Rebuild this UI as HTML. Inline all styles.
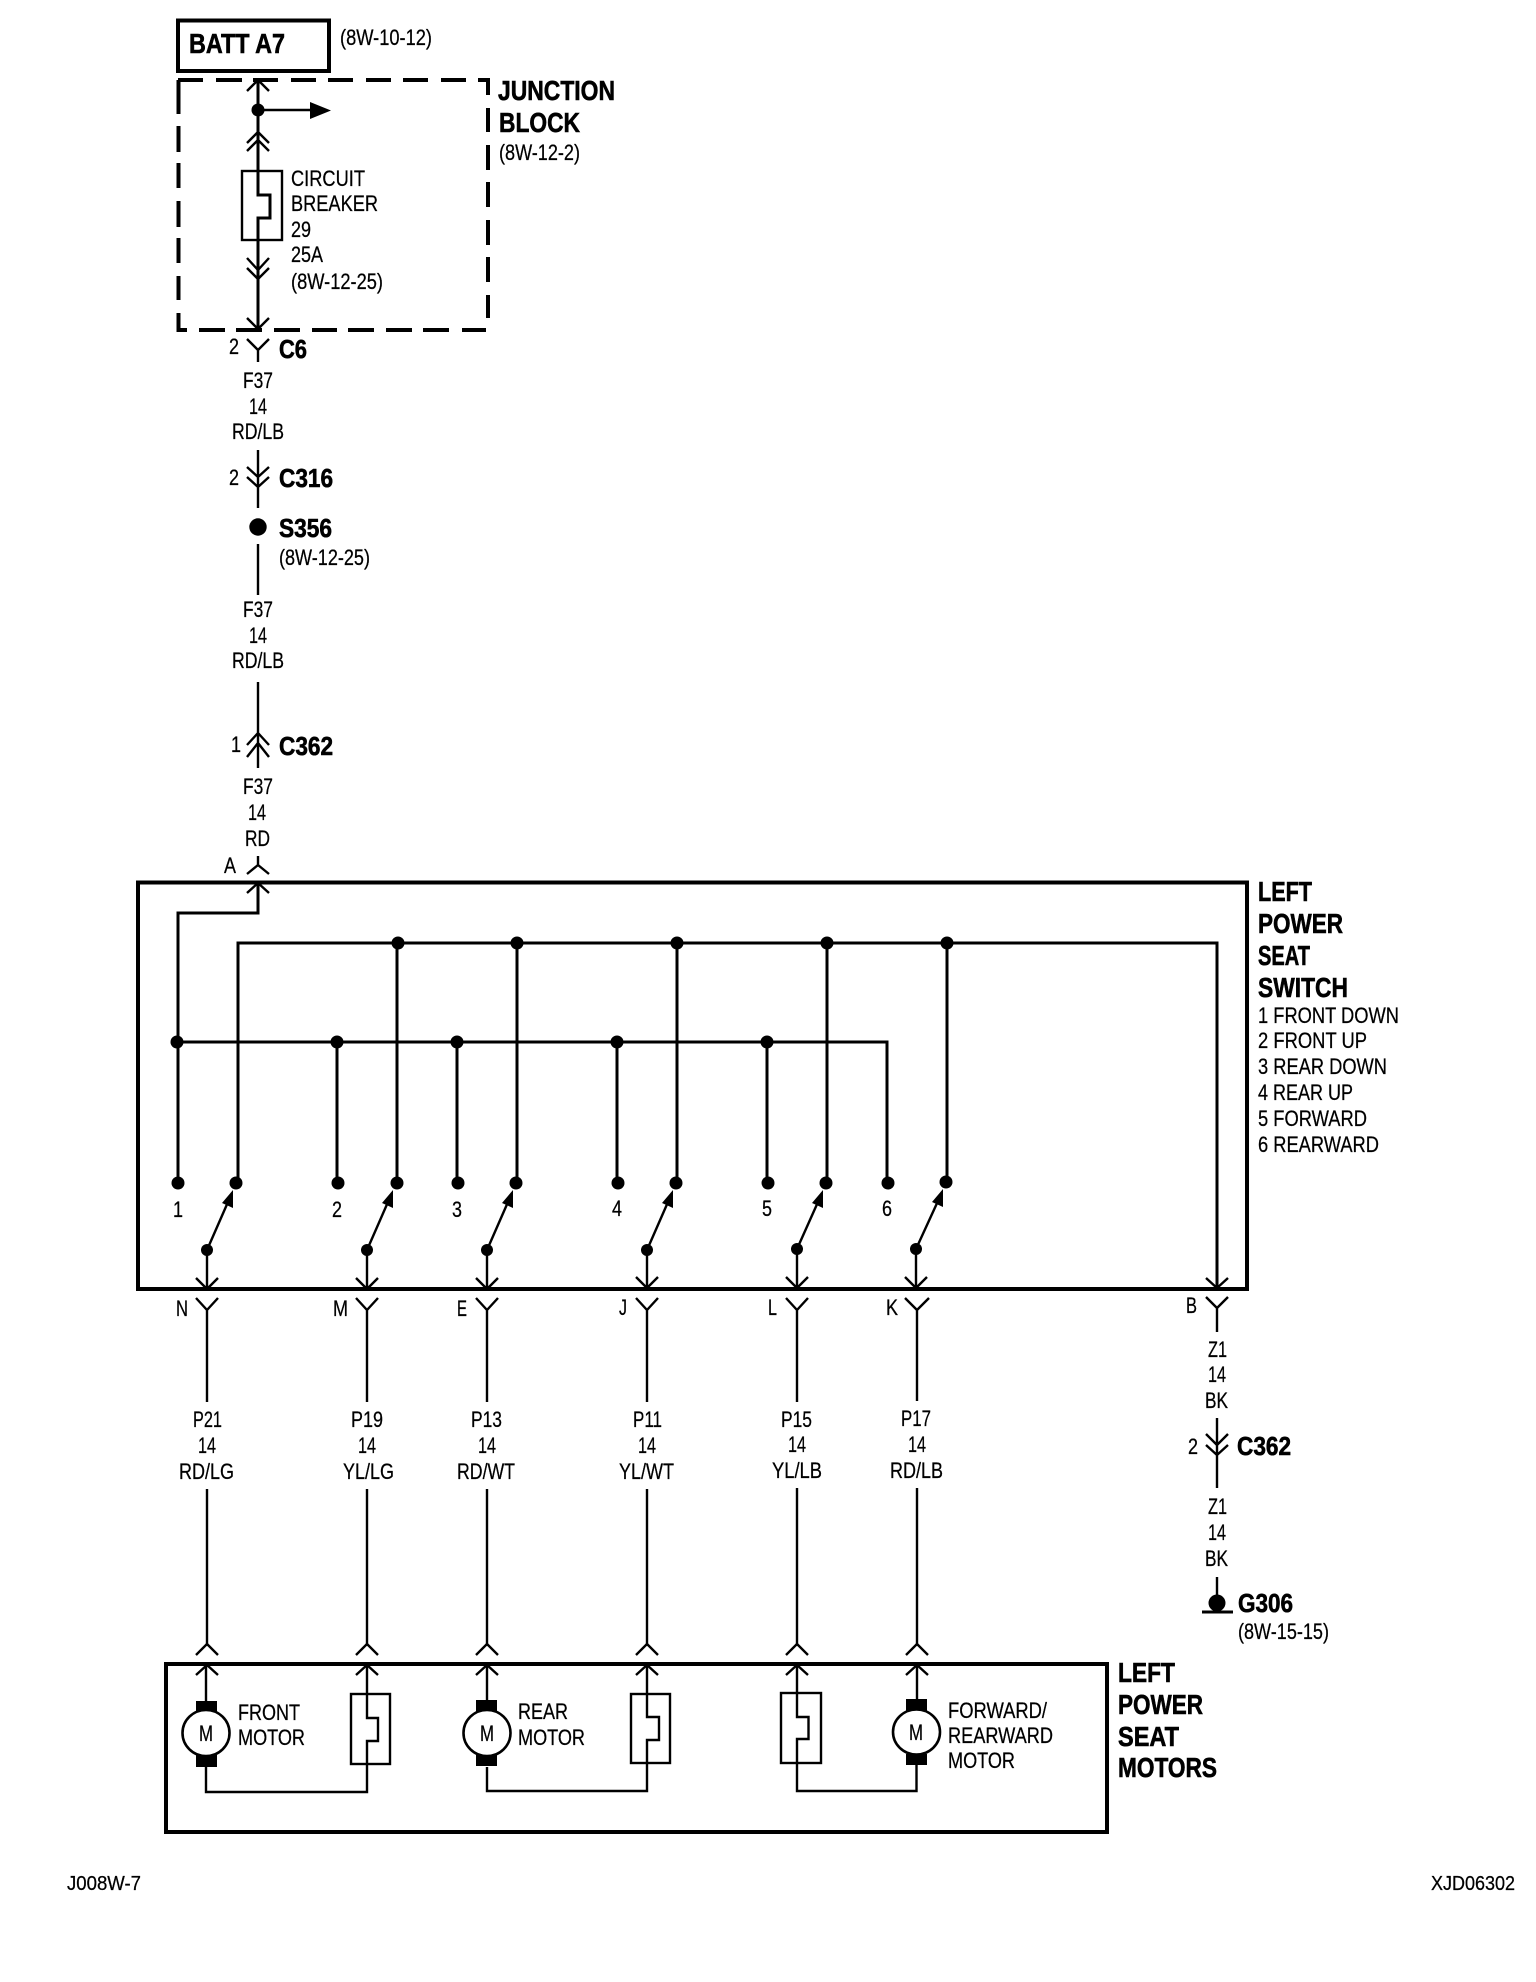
<!DOCTYPE html>
<html>
<head>
<meta charset="utf-8">
<style>
html,body{margin:0;padding:0;background:#fff}
svg{display:block}
text{font-family:"Liberation Sans",sans-serif;fill:#000;stroke:#000;stroke-width:.25;font-size:22px}
.b{font-weight:bold;font-size:28px;stroke-width:.6}
.c{font-weight:bold;font-size:26px;stroke-width:.6}
.m{text-anchor:middle}
.w{fill:none;stroke:#000;stroke-width:2.4}
.h{fill:none;stroke:#000;stroke-width:3}
.f{fill:none;stroke:#000;stroke-width:4}
</style>
</head>
<body>
<svg xmlns="http://www.w3.org/2000/svg" width="1536" height="1982" viewBox="0 0 1536 1982">
<rect width="1536" height="1982" fill="#fff"/>

<!-- BATT A7 -->
<rect class="f" x="178" y="20.5" width="151" height="50.5"/>
<text class="b" x="189" y="53" textLength="96" lengthAdjust="spacingAndGlyphs">BATT A7</text>
<text x="340" y="45" textLength="92" lengthAdjust="spacingAndGlyphs">(8W-10-12)</text>

<!-- Junction block dashed box -->
<path class="f" d="M178 80h25M216 80h26M253 80h25M291 80h25M328 80h25M366 80h25M403 80h25M441 80h25M478 80h12
M178.5 80v34M178.5 126v26M178.5 163v25M178.5 201v26M178.5 238v25M178.5 276v24M178.5 313v19
M488 80v15M488 108v24M488 145v25M488 182v25M488 220v25M488 257v25M488 295v23
M177 330h10M199 330h26M236 330h26M274 330h26M312 330h25M348 330h26M386 330h26M423 330h26M462 330h24"/>
<text class="b" x="498" y="100" textLength="117" lengthAdjust="spacingAndGlyphs">JUNCTION</text>
<text class="b" x="499" y="132" textLength="81" lengthAdjust="spacingAndGlyphs">BLOCK</text>
<text x="499" y="160" textLength="81" lengthAdjust="spacingAndGlyphs">(8W-12-2)</text>

<path class="h" d="M258 80V195H270V218H258V330"/>
<path class="w" d="M247 91L258 80L269 91M247 143L258 132L269 143M247 151L258 140L269 151"/>
<path class="w" d="M247 258L258 270L269 258M247 268L258 279L269 268M247 318L258 329L269 318"/>
<circle cx="258" cy="110" r="6.5"/>
<path class="w" d="M258 110H312"/>
<path d="M310 102L331 110.5L310 119Z"/>
<rect class="w" x="242" y="171" width="40" height="69"/>
<text x="291" y="186" textLength="74" lengthAdjust="spacingAndGlyphs">CIRCUIT</text>
<text x="291" y="211" textLength="87" lengthAdjust="spacingAndGlyphs">BREAKER</text>
<text x="291" y="237" textLength="20" lengthAdjust="spacingAndGlyphs">29</text>
<text x="291" y="262" textLength="32" lengthAdjust="spacingAndGlyphs">25A</text>
<text x="291" y="289" textLength="92" lengthAdjust="spacingAndGlyphs">(8W-12-25)</text>

<!-- C6 -->
<path class="w" d="M247 339L258 350L269 339M258 350V362"/>
<text x="229" y="354" textLength="10" lengthAdjust="spacingAndGlyphs">2</text>
<text class="c" x="279" y="358" textLength="28" lengthAdjust="spacingAndGlyphs">C6</text>
<text x="243" y="388" textLength="30" lengthAdjust="spacingAndGlyphs">F37</text>
<text x="249" y="414" textLength="18" lengthAdjust="spacingAndGlyphs">14</text>
<text x="232" y="439" textLength="52" lengthAdjust="spacingAndGlyphs">RD/LB</text>

<!-- C316 -->
<path class="w" d="M258 450V508M247 467L258 477L269 467M247 477L258 487L269 477"/>
<text x="229" y="485" textLength="10" lengthAdjust="spacingAndGlyphs">2</text>
<text class="c" x="279" y="487" textLength="54" lengthAdjust="spacingAndGlyphs">C316</text>
<circle cx="258" cy="527" r="8.7"/>
<text class="c" x="279" y="537" textLength="53" lengthAdjust="spacingAndGlyphs">S356</text>
<text x="279" y="565" textLength="91" lengthAdjust="spacingAndGlyphs">(8W-12-25)</text>
<path class="w" d="M258 544V595"/>
<text x="243" y="617" textLength="30" lengthAdjust="spacingAndGlyphs">F37</text>
<text x="249" y="643" textLength="18" lengthAdjust="spacingAndGlyphs">14</text>
<text x="232" y="668" textLength="52" lengthAdjust="spacingAndGlyphs">RD/LB</text>

<!-- C362 upper -->
<path class="w" d="M258 682V768M247 745L258 733L269 745M247 757L258 743L269 757"/>
<text x="231" y="752" textLength="10" lengthAdjust="spacingAndGlyphs">1</text>
<text class="c" x="279" y="755" textLength="54" lengthAdjust="spacingAndGlyphs">C362</text>
<text x="243" y="794" textLength="30" lengthAdjust="spacingAndGlyphs">F37</text>
<text x="248" y="820" textLength="18" lengthAdjust="spacingAndGlyphs">14</text>
<text x="245" y="846" textLength="25" lengthAdjust="spacingAndGlyphs">RD</text>
<text x="224" y="873" textLength="12" lengthAdjust="spacingAndGlyphs">A</text>
<path class="w" d="M258 856V865M247 874L258 865L269 874"/>

<!-- Switch box -->
<rect class="f" x="138" y="882.5" width="1109" height="406.5"/>
<path class="w" d="M247 893L258 883L269 893"/>
<path class="h" d="M258 883V913H178V1183"/>
<path class="h" d="M238 1183V943H1217V1289"/>
<path class="w" d="M1206 1278L1217 1288L1228 1278"/>
<path class="h" d="M177 1042H887V1183"/>
<path class="h" d="M337 1042V1183M457 1042V1183M617 1042V1183M767 1042V1183M397 943V1183M517 943V1183M677 943V1183M827 943V1183M947 943V1183"/>
<g>
<circle cx="398" cy="943" r="6.5"/><circle cx="517" cy="943" r="6.5"/><circle cx="677" cy="943" r="6.5"/><circle cx="827" cy="943" r="6.5"/><circle cx="947" cy="943" r="6.5"/>
<circle cx="177" cy="1042" r="6.5"/><circle cx="337" cy="1042" r="6.5"/><circle cx="457" cy="1042" r="6.5"/><circle cx="617" cy="1042" r="6.5"/><circle cx="767" cy="1042" r="6.5"/>
<circle cx="178" cy="1183" r="6.5"/><circle cx="236" cy="1183" r="6.5"/><circle cx="338" cy="1183" r="6.5"/><circle cx="397" cy="1183" r="6.5"/><circle cx="458" cy="1183" r="6.5"/><circle cx="516" cy="1183" r="6.5"/><circle cx="618" cy="1183" r="6.5"/><circle cx="676" cy="1183" r="6.5"/><circle cx="768" cy="1183" r="6.5"/><circle cx="826" cy="1183" r="6.5"/><circle cx="888" cy="1183" r="6.5"/><circle cx="946" cy="1182" r="6.5"/>
</g>
<text class="m" x="178" y="1217" textLength="10" lengthAdjust="spacingAndGlyphs">1</text>
<text class="m" x="337" y="1217" textLength="10" lengthAdjust="spacingAndGlyphs">2</text>
<text class="m" x="457" y="1217" textLength="10" lengthAdjust="spacingAndGlyphs">3</text>
<text class="m" x="617" y="1216" textLength="10" lengthAdjust="spacingAndGlyphs">4</text>
<text class="m" x="767" y="1216" textLength="10" lengthAdjust="spacingAndGlyphs">5</text>
<text class="m" x="887" y="1216" textLength="10" lengthAdjust="spacingAndGlyphs">6</text>

<!-- Switch blades -->
<g>
<circle cx="207" cy="1250" r="6"/><circle cx="367" cy="1250" r="6"/><circle cx="487" cy="1250" r="6"/><circle cx="647" cy="1250" r="6"/><circle cx="797" cy="1249" r="6"/><circle cx="916" cy="1249" r="6"/>
</g>
<path class="w" d="M207 1250L228 1202M367 1250L388 1202M487 1250L508 1202M647 1250L668 1202M797 1249L818 1202M916 1249L938 1201"/>
<path d="M233 1190L233 1208L222 1203ZM393 1190L393 1208L382 1203ZM513 1190L513 1208L502 1203ZM673 1190L673 1208L662 1203ZM823 1190L823 1208L812 1203ZM943 1189L943 1207L932 1202Z"/>
<path class="w" d="M207 1250V1289M196 1278L207 1289L218 1278M367 1250V1289M356 1278L367 1289L378 1278M487 1250V1289M476 1278L487 1289L498 1278M647 1250V1288M636 1277L647 1288L658 1277M797 1249V1288M786 1277L797 1288L808 1277M916 1249V1288M905 1277L916 1288L927 1277"/>

<!-- Y connectors and stems -->
<path class="w" d="M196 1298L207 1310L218 1298M207 1310V1402M356 1298L367 1310L378 1298M367 1310V1402M476 1298L487 1310L498 1298M487 1310V1402M636 1298L647 1310L658 1298M647 1310V1402M786 1298L797 1310L808 1298M797 1310V1402M905 1298L917 1310L929 1298M917 1310V1401"/>
<text x="176" y="1316" textLength="12" lengthAdjust="spacingAndGlyphs">N</text>
<text x="333" y="1316" textLength="15" lengthAdjust="spacingAndGlyphs">M</text>
<text x="457" y="1316" textLength="10" lengthAdjust="spacingAndGlyphs">E</text>
<text x="619" y="1315" textLength="8" lengthAdjust="spacingAndGlyphs">J</text>
<text x="768" y="1315" textLength="9" lengthAdjust="spacingAndGlyphs">L</text>
<text x="886" y="1315" textLength="12" lengthAdjust="spacingAndGlyphs">K</text>
<text x="1186" y="1313" textLength="11" lengthAdjust="spacingAndGlyphs">B</text>

<!-- Wire labels -->
<text x="193" y="1427" textLength="29" lengthAdjust="spacingAndGlyphs">P21</text>
<text x="351" y="1427" textLength="32" lengthAdjust="spacingAndGlyphs">P19</text>
<text x="471" y="1427" textLength="31" lengthAdjust="spacingAndGlyphs">P13</text>
<text x="633" y="1427" textLength="29" lengthAdjust="spacingAndGlyphs">P11</text>
<text x="781" y="1427" textLength="31" lengthAdjust="spacingAndGlyphs">P15</text>
<text x="901" y="1426" textLength="30" lengthAdjust="spacingAndGlyphs">P17</text>
<text x="198" y="1453" textLength="18" lengthAdjust="spacingAndGlyphs">14</text>
<text x="358" y="1453" textLength="18" lengthAdjust="spacingAndGlyphs">14</text>
<text x="478" y="1453" textLength="18" lengthAdjust="spacingAndGlyphs">14</text>
<text x="638" y="1453" textLength="18" lengthAdjust="spacingAndGlyphs">14</text>
<text x="788" y="1452" textLength="18" lengthAdjust="spacingAndGlyphs">14</text>
<text x="908" y="1452" textLength="18" lengthAdjust="spacingAndGlyphs">14</text>
<text x="179" y="1479" textLength="55" lengthAdjust="spacingAndGlyphs">RD/LG</text>
<text x="343" y="1479" textLength="51" lengthAdjust="spacingAndGlyphs">YL/LG</text>
<text x="457" y="1479" textLength="58" lengthAdjust="spacingAndGlyphs">RD/WT</text>
<text x="619" y="1479" textLength="55" lengthAdjust="spacingAndGlyphs">YL/WT</text>
<text x="772" y="1478" textLength="50" lengthAdjust="spacingAndGlyphs">YL/LB</text>
<text x="890" y="1478" textLength="53" lengthAdjust="spacingAndGlyphs">RD/LB</text>

<!-- Lower wires -->
<path class="w" d="M207 1489V1644M367 1489V1644M487 1489V1644M647 1489V1644M797 1488V1644M917 1488V1644"/>
<path class="w" d="M196 1655L207 1644L218 1655M356 1655L367 1644L378 1655M476 1655L487 1644L498 1655M636 1655L647 1644L658 1655M786 1655L797 1644L808 1655M906 1655L917 1644L928 1655"/>

<!-- Ground wire -->
<path class="w" d="M1206 1297L1217 1308L1228 1297M1217 1308V1332M1217 1418V1488M1206 1434L1217 1445L1228 1434M1206 1445L1217 1455L1228 1445M1217 1577V1603"/>
<text x="1208" y="1357" textLength="19" lengthAdjust="spacingAndGlyphs">Z1</text>
<text x="1208" y="1382" textLength="18" lengthAdjust="spacingAndGlyphs">14</text>
<text x="1205" y="1408" textLength="23" lengthAdjust="spacingAndGlyphs">BK</text>
<text x="1188" y="1454" textLength="10" lengthAdjust="spacingAndGlyphs">2</text>
<text class="c" x="1237" y="1455" textLength="54" lengthAdjust="spacingAndGlyphs">C362</text>
<text x="1208" y="1514" textLength="19" lengthAdjust="spacingAndGlyphs">Z1</text>
<text x="1208" y="1540" textLength="18" lengthAdjust="spacingAndGlyphs">14</text>
<text x="1205" y="1566" textLength="23" lengthAdjust="spacingAndGlyphs">BK</text>
<circle cx="1217" cy="1603" r="8.5"/>
<path d="M1202 1610.5H1233V1613.5H1202Z"/>
<text class="c" x="1238" y="1612" textLength="55" lengthAdjust="spacingAndGlyphs">G306</text>
<text x="1238" y="1639" textLength="91" lengthAdjust="spacingAndGlyphs">(8W-15-15)</text>

<!-- Switch labels -->
<text class="b" x="1258" y="901" textLength="54" lengthAdjust="spacingAndGlyphs">LEFT</text>
<text class="b" x="1258" y="933" textLength="85" lengthAdjust="spacingAndGlyphs">POWER</text>
<text class="b" x="1258" y="965" textLength="52" lengthAdjust="spacingAndGlyphs">SEAT</text>
<text class="b" x="1258" y="997" textLength="90" lengthAdjust="spacingAndGlyphs">SWITCH</text>
<text x="1258" y="1023" textLength="141" lengthAdjust="spacingAndGlyphs">1 FRONT DOWN</text>
<text x="1258" y="1048" textLength="109" lengthAdjust="spacingAndGlyphs">2 FRONT UP</text>
<text x="1258" y="1074" textLength="129" lengthAdjust="spacingAndGlyphs">3 REAR DOWN</text>
<text x="1258" y="1100" textLength="95" lengthAdjust="spacingAndGlyphs">4 REAR UP</text>
<text x="1258" y="1126" textLength="109" lengthAdjust="spacingAndGlyphs">5 FORWARD</text>
<text x="1258" y="1152" textLength="121" lengthAdjust="spacingAndGlyphs">6 REARWARD</text>

<!-- Motors box -->
<rect class="f" x="166" y="1664" width="941" height="168"/>
<path class="w" d="M196 1675L207 1665L218 1675M356 1675L367 1665L378 1675M476 1675L487 1665L498 1675M636 1675L647 1665L658 1675M786 1675L797 1665L808 1675M906 1675L917 1665L928 1675"/>
<path class="w" d="M206 1665V1701M206 1767V1792H367V1741H378V1718H367V1665"/>
<path class="w" d="M487 1665V1701M487 1767V1791H647V1740H659V1717H647V1665"/>
<path class="w" d="M797 1665V1717H808.5V1739H797V1791H916.5V1765M917 1665V1699"/>
<rect class="w" x="351" y="1694" width="39" height="70"/>
<rect class="w" x="631" y="1694" width="39" height="69"/>
<rect class="w" x="781" y="1693" width="40" height="70"/>
<g>
<rect x="196" y="1701" width="21" height="12"/><rect x="196" y="1755" width="21" height="12"/>
<rect x="476" y="1700" width="21" height="12"/><rect x="476" y="1754" width="21" height="12"/>
<rect x="906" y="1699" width="21" height="12"/><rect x="906" y="1754" width="21" height="11"/>
</g>
<g fill="#fff" stroke="#000" stroke-width="2.6">
<ellipse cx="206" cy="1733" rx="23.5" ry="23"/>
<ellipse cx="487" cy="1733" rx="23.5" ry="23"/>
<ellipse cx="916.5" cy="1732" rx="23.5" ry="22.5"/>
</g>
<text class="m" x="206" y="1741" textLength="14" lengthAdjust="spacingAndGlyphs">M</text>
<text class="m" x="487" y="1741" textLength="14" lengthAdjust="spacingAndGlyphs">M</text>
<text class="m" x="916" y="1740" textLength="14" lengthAdjust="spacingAndGlyphs">M</text>
<text x="238" y="1720" textLength="62" lengthAdjust="spacingAndGlyphs">FRONT</text>
<text x="238" y="1745" textLength="67" lengthAdjust="spacingAndGlyphs">MOTOR</text>
<text x="518" y="1719" textLength="50" lengthAdjust="spacingAndGlyphs">REAR</text>
<text x="518" y="1745" textLength="67" lengthAdjust="spacingAndGlyphs">MOTOR</text>
<text x="948" y="1718" textLength="99" lengthAdjust="spacingAndGlyphs">FORWARD/</text>
<text x="948" y="1743" textLength="105" lengthAdjust="spacingAndGlyphs">REARWARD</text>
<text x="948" y="1768" textLength="67" lengthAdjust="spacingAndGlyphs">MOTOR</text>
<text class="b" x="1118" y="1682" textLength="57" lengthAdjust="spacingAndGlyphs">LEFT</text>
<text class="b" x="1118" y="1714" textLength="85" lengthAdjust="spacingAndGlyphs">POWER</text>
<text class="b" x="1118" y="1746" textLength="61" lengthAdjust="spacingAndGlyphs">SEAT</text>
<text class="b" x="1118" y="1777" textLength="99" lengthAdjust="spacingAndGlyphs">MOTORS</text>

<!-- Footer -->
<text x="67" y="1890" textLength="74" lengthAdjust="spacingAndGlyphs" style="font-size:20px">J008W-7</text>
<text x="1431" y="1890" textLength="84" lengthAdjust="spacingAndGlyphs" style="font-size:20px">XJD06302</text>
</svg>
</body>
</html>
